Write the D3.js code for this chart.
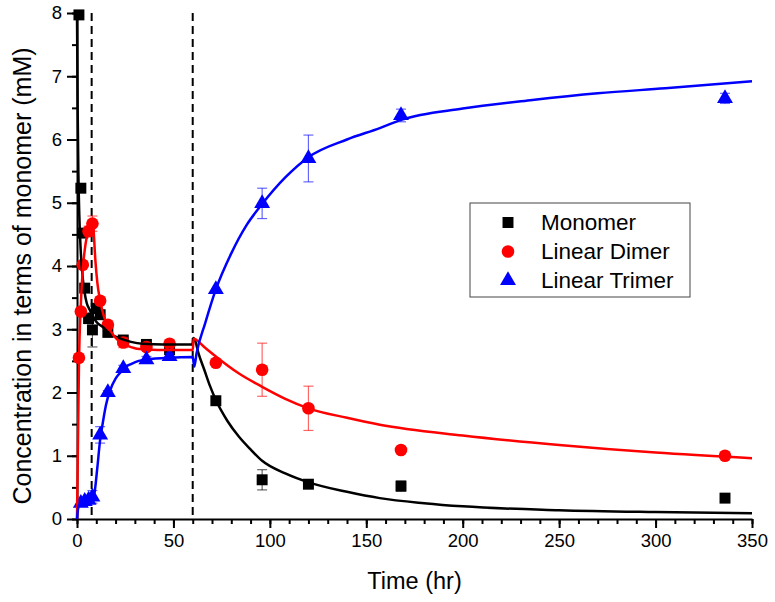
<!DOCTYPE html>
<html>
<head>
<meta charset="utf-8">
<script src="https://cdn.jsdelivr.net/npm/d3@7"></script>
<style>
  body { margin: 0; background: #fff; }
  svg { display: block; font-family: "Liberation Sans", Arial, sans-serif; }
</style>
</head>
<body>
<div id="chart"></div>
<script>
// measured points: [time (hr), concentration (mM), error]
const monomerPts = [
  [1, 7.97, 0], [2, 5.23, 0], [3, 4.52, 0], [4, 3.65, 0.05], [6, 3.17, 0.08],
  [8, 2.99, 0.27], [10, 3.33, 0.08], [12, 3.23, 0.06], [16, 2.95, 0.05], [24, 2.83, 0.04],
  [36, 2.76, 0.03], [48, 2.68, 0.04], [72, 1.87, 0], [96, 0.62, 0.16],
  [120, 0.55, 0.03], [168, 0.52, 0.08], [336, 0.33, 0]
];
const dimerPts = [
  [1, 2.55, 0], [2, 3.28, 0], [3, 4.02, 0], [6, 4.55, 0.08], [8, 4.67, 0.12],
  [12, 3.45, 0.05], [16, 3.07, 0.04], [24, 2.79, 0.08], [36, 2.72, 0.04], [48, 2.77, 0.04],
  [72, 2.47, 0], [96, 2.36, 0.42], [120, 1.75, 0.35], [168, 1.09, 0], [336, 1.0, 0]
];
const trimerPts = [
  [2, 0.25, 0.04], [4, 0.28, 0.05], [6, 0.3, 0.05], [8, 0.35, 0.1],
  [12, 1.33, 0.13], [16, 2.0, 0.03], [24, 2.38, 0.05], [36, 2.52, 0.05], [48, 2.57, 0.05],
  [72, 3.63, 0], [96, 4.99, 0.24], [120, 5.7, 0.37], [168, 6.38, 0.1], [336, 6.65, 0.08]
];

// model curves: [time, concentration]
const monomerFit = [
  [0, 8.0], [0.3, 6.6], [0.7, 5.5], [1.2, 4.8], [2, 4.2], [3, 3.8], [4, 3.57], [5, 3.42],
  [6.7, 3.3], [8, 3.22], [10, 3.12], [13.6, 3.03], [17, 2.93], [22, 2.86], [28, 2.8],
  [34, 2.77], [45, 2.76], [60, 2.76], [60.3, 2.86], [61, 2.84], [63, 2.62], [66, 2.36],
  [69, 2.1], [72, 1.88], [78, 1.55], [84, 1.3], [90, 1.1], [96, 0.92], [108, 0.72],
  [120, 0.58], [140, 0.43], [157, 0.33], [180, 0.25], [200, 0.2], [250, 0.14],
  [300, 0.11], [350, 0.09]
];
const dimerFit = [
  [0, 0], [0.5, 1.2], [1, 2.4], [2, 3.4], [3, 3.95], [4, 4.25], [5, 4.45], [6.5, 4.62],
  [7.6, 4.72], [8.5, 4.6], [9.5, 4.1], [10.5, 3.75], [12, 3.45], [14, 3.2], [16, 3.05],
  [19, 2.9], [22.3, 2.8], [26, 2.74], [30, 2.7], [36, 2.68], [48, 2.67], [60, 2.67],
  [60.5, 2.85], [62, 2.83], [66, 2.72], [72, 2.57], [84, 2.3], [96, 2.09], [108, 1.9],
  [120, 1.75], [140, 1.6], [157, 1.49], [200, 1.32], [250, 1.17], [300, 1.05], [350, 0.96]
];
const trimerFit = [
  [0, 0], [0.5, 0.15], [1, 0.22], [2, 0.25], [4, 0.28], [6, 0.3], [8, 0.33], [9, 0.4],
  [10.5, 0.8], [12, 1.25], [13, 1.45], [15, 1.8], [17, 2.02], [20, 2.22], [22, 2.3],
  [25, 2.4], [28, 2.45], [32, 2.5], [36, 2.52], [48, 2.55], [60, 2.56], [60.8, 2.41],
  [62, 2.62], [66.4, 3.09], [72, 3.63], [80, 4.2], [88, 4.65], [96, 4.98], [108, 5.4],
  [120, 5.72], [140, 6.0], [157, 6.18], [168, 6.31], [200, 6.49], [235, 6.62],
  [270, 6.73], [305, 6.81], [350, 6.92]
];

const phaseTimes = [7.6, 60];
const seriesNames = ['Monomer', 'Linear Dimer', 'Linear Trimer'];
const seriesColors = ['#000000', '#ff0000', '#0000ff'];
const xTicks = [0, 50, 100, 150, 200, 250, 300, 350];
const yTicks = [0, 1, 2, 3, 4, 5, 6, 7, 8];

const W = 775, H = 602;
const M = { left: 77, right: 752, top: 13, bottom: 519 };

const svg = d3.select('#chart').append('svg')
  .attr('width', W)
  .attr('height', H);

const x = d3.scaleLinear().domain([0, 350]).range([M.left, M.right]);
const y = d3.scaleLinear().domain([0, 8]).range([M.bottom, M.top]);

// phase boundaries
svg.append('g').selectAll('line')
  .data(phaseTimes)
  .enter().append('line')
  .attr('x1', d => x(d)).attr('x2', d => x(d))
  .attr('y1', y(8)).attr('y2', y(0))
  .attr('stroke', '#000')
  .attr('stroke-width', 2)
  .attr('stroke-dasharray', '8,5');

// axes: minor ticks first, then major ticks + labels
const xMinor = d3.range(0, 351, 10);
const yMinor = d3.range(0, 8.01, 0.5);

svg.append('g')
  .attr('transform', `translate(0,${M.bottom})`)
  .call(d3.axisBottom(x).tickValues(xMinor).tickSize(5).tickFormat(''))
  .call(g => g.select('.domain').remove())
  .call(g => g.selectAll('line').attr('stroke-width', 2));

svg.append('g')
  .attr('transform', `translate(${M.left},0)`)
  .call(d3.axisLeft(y).tickValues(yMinor).tickSize(5).tickFormat(''))
  .call(g => g.select('.domain').remove())
  .call(g => g.selectAll('line').attr('stroke-width', 2));

const xAxis = svg.append('g')
  .attr('transform', `translate(0,${M.bottom})`)
  .call(d3.axisBottom(x).tickValues(xTicks).tickSize(9).tickSizeOuter(0).tickPadding(6));
xAxis.select('.domain').attr('stroke-width', 2);
xAxis.selectAll('line').attr('stroke-width', 2);
xAxis.selectAll('text').attr('font-size', 18.5).attr('fill', '#000')
  .attr('font-family', '"Liberation Sans", Arial, sans-serif');

const yAxis = svg.append('g')
  .attr('transform', `translate(${M.left},0)`)
  .call(d3.axisLeft(y).tickValues(yTicks).tickSize(10).tickSizeOuter(0).tickPadding(5));
yAxis.select('.domain').attr('stroke-width', 2);
yAxis.selectAll('line').attr('stroke-width', 2);
yAxis.selectAll('text').attr('font-size', 18.5).attr('fill', '#000')
  .attr('font-family', '"Liberation Sans", Arial, sans-serif');

// axis titles
svg.append('text')
  .attr('x', (M.left + M.right) / 2)
  .attr('y', 589)
  .attr('text-anchor', 'middle')
  .attr('font-size', 23.5)
  .text('Time (hr)');

svg.append('text')
  .attr('transform', `translate(31,276) rotate(-90)`)
  .attr('text-anchor', 'middle')
  .attr('font-size', 25)
  .text('Concentration in terms of monomer (mM)');

// markers
const symbolTypes = [d3.symbolSquare, d3.symbolCircle, d3.symbolTriangle];
const symbolSizes = [120, 125, 110];
const allPts = [monomerPts, dimerPts, trimerPts];
const allFits = [monomerFit, dimerFit, trimerFit];

allPts.forEach((pts, i) => {
  const g = svg.append('g');
  const color = seriesColors[i];
  const bars = pts.filter(d => d[2] > 0);
  // error bars
  const eb = g.selectAll('.eb').data(bars).enter().append('g')
    .attr('stroke', color).attr('stroke-opacity', 0.6).attr('stroke-width', 1.2);
  eb.append('line')
    .attr('x1', d => x(d[0])).attr('x2', d => x(d[0]))
    .attr('y1', d => y(d[1] - d[2])).attr('y2', d => y(d[1] + d[2]));
  eb.append('line')
    .attr('x1', d => x(d[0]) - 5).attr('x2', d => x(d[0]) + 5)
    .attr('y1', d => y(d[1] - d[2])).attr('y2', d => y(d[1] - d[2]));
  eb.append('line')
    .attr('x1', d => x(d[0]) - 5).attr('x2', d => x(d[0]) + 5)
    .attr('y1', d => y(d[1] + d[2])).attr('y2', d => y(d[1] + d[2]));

  g.selectAll('path.pt').data(pts).enter().append('path')
    .attr('class', 'pt')
    .attr('d', d3.symbol().type(symbolTypes[i]).size(symbolSizes[i]))
    .attr('transform', d => `translate(${x(d[0])},${y(d[1])})`)
    .attr('fill', color);
});

// fitted curves
const line = d3.line()
  .x(d => x(d[0]))
  .y(d => y(d[1]))
  .curve(d3.curveMonotoneX);

allFits.forEach((fit, i) => {
  svg.append('path')
    .datum(fit)
    .attr('d', line)
    .attr('fill', 'none')
    .attr('stroke', seriesColors[i])
    .attr('stroke-width', 2.5)
    .attr('stroke-linejoin', 'round');
});

// legend
const legend = svg.append('g').attr('transform', 'translate(470,203)');
legend.append('rect')
  .attr('width', 220).attr('height', 94)
  .attr('fill', '#fff')
  .attr('stroke', '#444')
  .attr('stroke-width', 1);

const rows = legend.selectAll('.row')
  .data(seriesNames)
  .enter().append('g')
  .attr('transform', (d, i) => `translate(0,${19.5 + i * 29})`);
rows.append('path')
  .attr('d', (d, i) => d3.symbol().type(symbolTypes[i]).size(symbolSizes[i])())
  .attr('transform', 'translate(38,0)')
  .attr('fill', (d, i) => seriesColors[i]);
rows.append('text')
  .attr('x', 71)
  .attr('dy', '0.35em')
  .attr('font-size', 22.5)
  .text(d => d);
</script>
</body>
</html>
